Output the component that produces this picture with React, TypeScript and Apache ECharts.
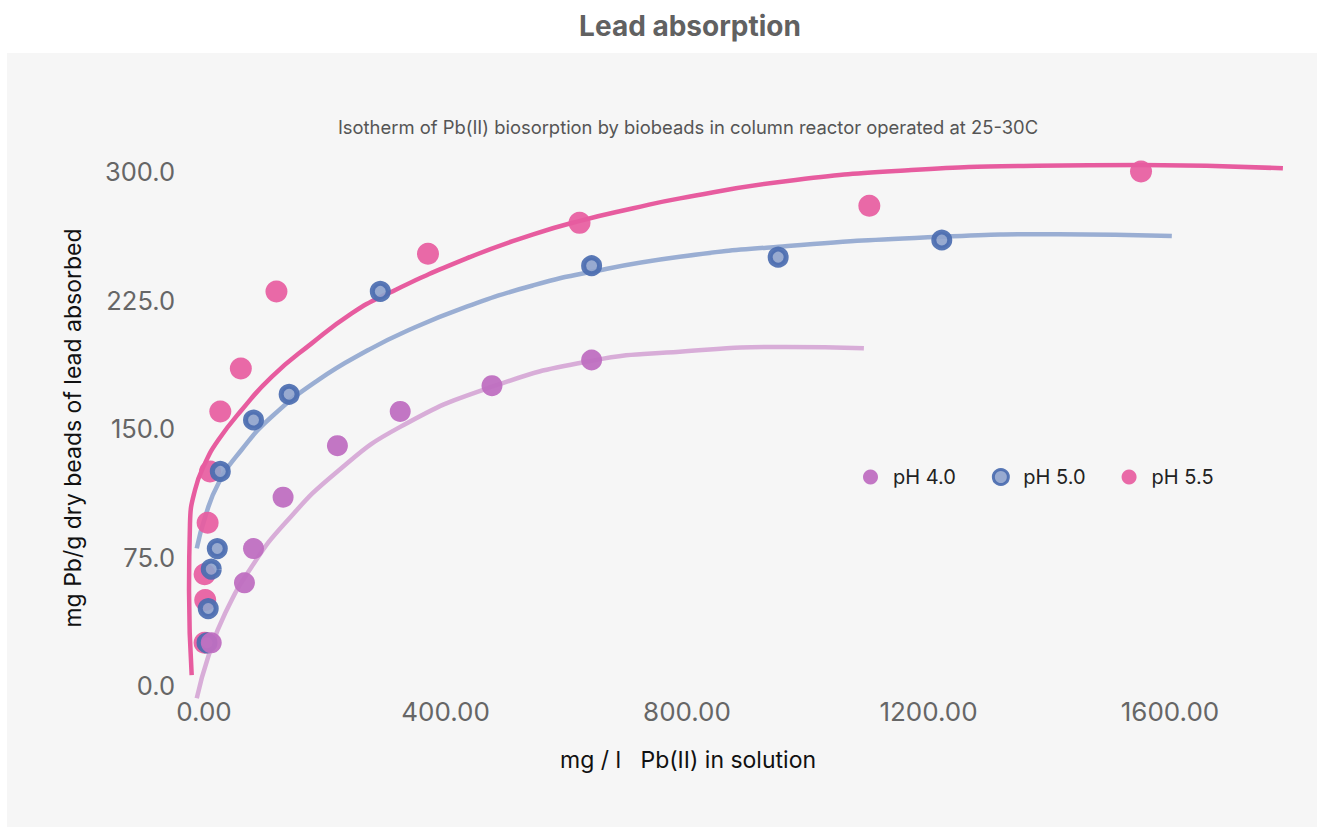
import React, { useEffect, useRef } from "react";
import * as echarts from "echarts";

// ---- data ----
const xTicks = [0, 400, 800, 1200, 1600];
const yTicks = [0, 75, 150, 225, 300];

const ph40X = [12, 67, 82, 131, 221, 325, 477, 642];
const ph40Y = [25, 60, 80, 110, 140, 160, 175, 190];

const ph50X = [5, 7, 12, 22, 27, 82, 141, 292, 642, 951, 1222];
const ph50Y = [25, 45, 68, 80, 125, 155, 170, 230, 245, 250, 260];

const ph55X = [1, 2, 1, 6, 10, 27, 61, 120, 371, 622, 1102, 1552];
const ph55Y = [25, 50, 65, 95, 125, 160, 185, 230, 252, 270, 280, 300];

// fitted curves
const fit40X = [-12, 7, 35, 79, 134, 221, 325, 477, 642, 788, 964, 1093];
const fit40Y = [-7.3, 16.9, 42.2, 69.4, 94.7, 125, 151, 174.4, 189.5, 194.8, 197.6, 196.8];

const fit50X = [-12, 2, 24, 62, 112, 189, 272, 333, 435, 545, 642, 788, 952, 1222, 1415, 1603];
const fit50Y = [80.1, 98.6, 118.1, 137.5, 156.9, 178.3, 195.8, 206.5, 221.1, 233.5, 241.5, 250.2, 256.1, 261.9, 263.4, 262.3];

const fit55X = [-20.4, -24.8, -23.2, -14.9, 1.7, 23.7, 62.4, 112.1, 178.4, 244.6, 299.8, 435.1, 545.4, 622.8, 711.1, 788.4, 963.5, 1171.6, 1379.7, 1552, 1787];
const fit55Y = [6.2, 55.8, 94.7, 114.2, 129.7, 143.3, 160.8, 180.2, 199.7, 217.2, 228, 249.3, 263.3, 271.2, 278.5, 284.3, 294.3, 300.8, 303.3, 303.7, 301.8];

const seriesNames = ["pH 4.0", "pH 5.0", "pH 5.5"];

const zip = (xs: number[], ys: number[]) => xs.map((x, i) => [x, ys[i]]);

const FONT = "Inter, 'Noto Sans', sans-serif";

export default function App() {
  const ref = useRef<HTMLDivElement>(null);

  useEffect(() => {
    if (!ref.current) return;
    const chart = echarts.init(ref.current, undefined, { renderer: "svg" });

    const PURPLE = "#bf6fc1";
    const BLUE_BORDER = "#4b6cb0";
    const BLUE_FILL = "#8fa3cc";
    const PINK = "#e75c9f";

    const lineCommon = {
      type: "line",
      showSymbol: false,
      symbol: "none",
      smooth: 0.5,
      clip: false,
      silent: true,
      z: 1,
    };

    chart.setOption({
      animation: false,
      backgroundColor: "#ffffff",
      textStyle: { fontFamily: FONT },
      graphic: [
        {
          type: "rect",
          left: 7,
          top: 53,
          shape: { x: 0, y: 0, width: 1310, height: 774 },
          style: { fill: "#f6f6f6" },
          z: -10,
          silent: true,
        },
        {
          type: "text",
          x: 690,
          y: 26,
          style: {
            text: "Lead absorption",
            fill: "#616161",
            font: `bold 28px ${FONT}`,
            textAlign: "center",
            textVerticalAlign: "middle",
          },
        },
        {
          type: "text",
          x: 688,
          y: 127,
          style: {
            text: "Isotherm of Pb(II) biosorption by biobeads in column reactor operated at 25-30C",
            fill: "#555555",
            font: `18.4px ${FONT}`,
            textAlign: "center",
            textVerticalAlign: "middle",
          },
        },
        {
          type: "text",
          x: 688,
          y: 760,
          style: {
            text: "mg / l   Pb(II) in solution",
            fill: "#111111",
            font: `23px ${FONT}`,
            textAlign: "center",
            textVerticalAlign: "middle",
          },
        },
        {
          type: "text",
          x: 73,
          y: 428,
          rotation: Math.PI / 2,
          style: {
            text: "mg Pb/g dry beads of lead absorbed",
            fill: "#111111",
            font: `23px ${FONT}`,
            textAlign: "center",
            textVerticalAlign: "middle",
          },
        },
      ],
      legend: {
        left: 858,
        top: 462,
        itemWidth: 15,
        itemHeight: 15,
        itemGap: 36,
        textStyle: {
          fontSize: 20,
          color: "#222222",
          fontFamily: FONT,
          padding: [0, 0, 0, 10],
        },
        data: [
          { name: seriesNames[0], icon: "circle" },
          {
            name: seriesNames[1],
            icon: "circle",
            itemStyle: { color: BLUE_FILL, borderColor: BLUE_BORDER, borderWidth: 3 },
          },
          { name: seriesNames[2], icon: "circle" },
        ],
      },
      grid: { left: 179.85, right: 26.25, top: 154.3, bottom: 115.6, containLabel: false },
      xAxis: {
        type: "value",
        min: -40,
        max: 1800,
        offset: -25.7,
        axisLine: { show: false, onZero: false },
        axisTick: { show: false },
        splitLine: { show: false },
        axisLabel: {
          customValues: xTicks,
          margin: 13,
          fontSize: 26,
          color: "#666666",
          fontFamily: FONT,
          formatter: (v: number) => Number(v).toFixed(2),
        },
      },
      yAxis: {
        type: "value",
        min: -15,
        max: 310,
        offset: -24.15,
        axisLine: { show: false, onZero: false },
        axisTick: { show: false },
        splitLine: { show: false },
        axisLabel: {
          customValues: yTicks,
          margin: 29,
          fontSize: 25.5,
          color: "#666666",
          fontFamily: FONT,
          formatter: (v: number) => Number(v).toFixed(1),
        },
      },
      series: [
        {
          ...lineCommon,
          name: "fit 4.0",
          data: zip(fit40X, fit40Y),
          lineStyle: { color: "#d8add8", width: 4.5 },
          itemStyle: { color: "#d8add8" },
        },
        {
          ...lineCommon,
          name: "fit 5.0",
          data: zip(fit50X, fit50Y),
          lineStyle: { color: "#9aaed3", width: 4.5 },
          itemStyle: { color: "#9aaed3" },
        },
        {
          ...lineCommon,
          name: "fit 5.5",
          data: zip(fit55X, fit55Y),
          lineStyle: { color: PINK, width: 4.5 },
          itemStyle: { color: PINK },
        },
        {
          type: "scatter",
          name: seriesNames[2],
          data: zip(ph55X, ph55Y),
          symbolSize: 22,
          clip: false,
          z: 2,
          itemStyle: { color: PINK, opacity: 0.92 },
        },
        {
          type: "scatter",
          name: seriesNames[1],
          data: zip(ph50X, ph50Y),
          symbolSize: 16,
          clip: false,
          z: 3,
          itemStyle: { color: BLUE_FILL, borderColor: BLUE_BORDER, borderWidth: 5, opacity: 0.92 },
        },
        {
          type: "scatter",
          name: seriesNames[0],
          data: zip(ph40X, ph40Y),
          symbolSize: 21,
          clip: false,
          z: 4,
          itemStyle: { color: PURPLE, opacity: 0.95 },
        },
      ],
    });

    return () => chart.dispose();
  }, []);

  return (
    <div
      ref={ref}
      style={{ position: "fixed", left: 0, top: 0, width: 1317, height: 827 }}
    />
  );
}
